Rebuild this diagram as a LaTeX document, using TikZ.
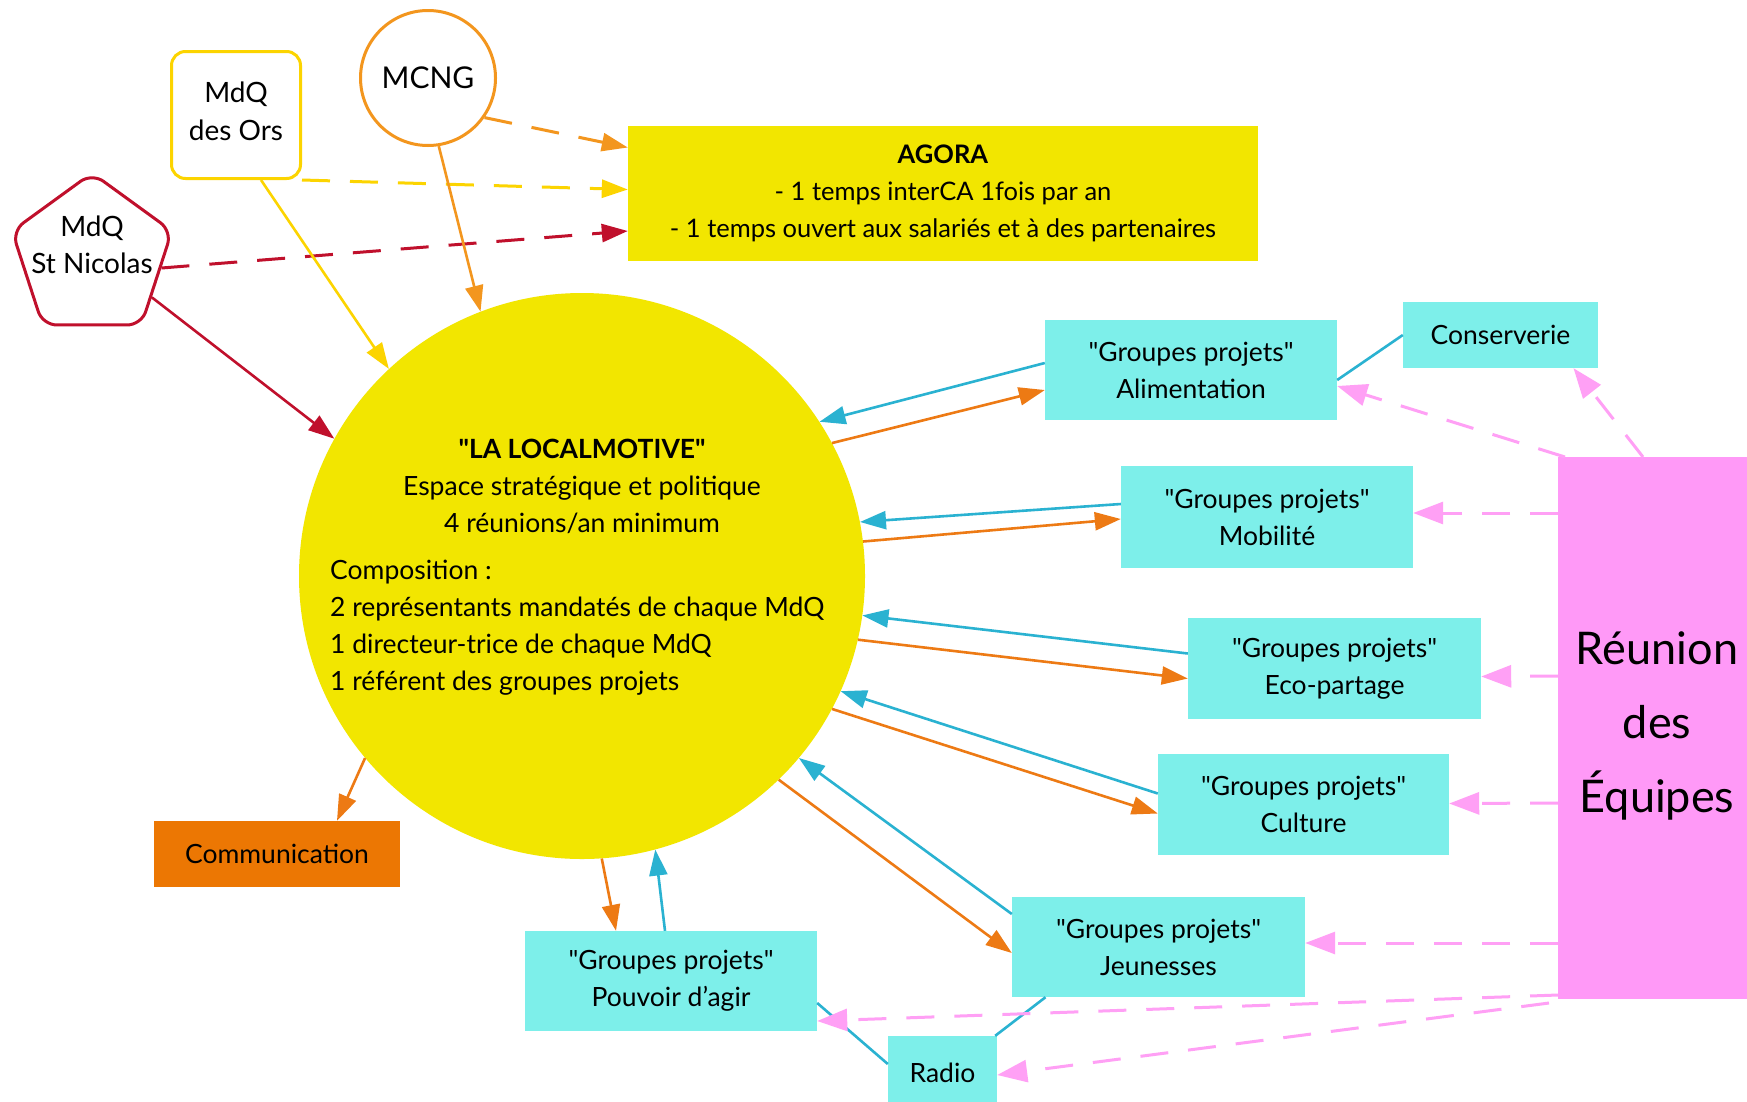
\documentclass[tikz,border=0pt]{standalone}
\usepackage{fontspec}
\newfontfamily\lato{Lato}
\newcommand\fsz[2]{\lato\fontsize{#1}{#2}\selectfont}
\usetikzlibrary{arrows.meta,shapes.geometric,calc}
\definecolor{locyellow}{RGB}{242,230,0}
\definecolor{cyanbox}{RGB}{125,239,234}
\definecolor{blueline}{RGB}{42,178,209}
\definecolor{orline}{RGB}{237,122,20}
\definecolor{mcngor}{RGB}{243,150,30}
\definecolor{orsyellow}{RGB}{252,212,0}
\definecolor{crimson}{RGB}{192,16,44}
\definecolor{pinkbox}{RGB}{255,153,247}
\definecolor{pinkline}{RGB}{255,160,245}
\definecolor{commor}{RGB}{236,119,3}
\begin{document}
\begin{tikzpicture}[x=1pt,y=-1pt,
  txt/.style={inner sep=0pt, font=\fsz{26.5}{37}},
  gbox/.style={fill=cyanbox, align=center, inner sep=0pt, font=\fsz{26.5}{37}},
  tipA/.style={-{Triangle[length=26pt,width=18pt]}},
  bluearr/.style={draw=blueline, line width=2.6pt, tipA},
  orarr/.style={draw=orline, line width=2.6pt, tipA},
  blueln/.style={draw=blueline, line width=2.6pt},
  pinkarr/.style={draw=pinkline, line width=3pt, dash pattern=on 28pt off 20pt, -{Triangle[length=30pt,width=22pt]}},
  topdash/.style={line width=3pt, dash pattern=on 28pt off 20pt, tipA}
]
\useasboundingbox[fill=white] (0,0) rectangle (1747,1101);

% main circle
\node[circle, fill=locyellow, minimum size=566pt, inner sep=0pt] (loc) at (582,576) {};
\node[txt, align=center] (loctitle) at (582,486) {\textbf{"LA LOCALMOTIVE"}\\Espace stratégique et politique\\4 réunions/an minimum};
\node[txt, align=left, anchor=west] (loccomp) at (330,628) {Composition :\\2 représentants mandatés de chaque MdQ\\1 directeur-trice de chaque MdQ\\1 référent des groupes projets};

% top sources
\node[circle, draw=mcngor, line width=3pt, fill=white, minimum size=135pt, inner sep=0pt, font=\fsz{30}{36}] (mcng) at (428,78) {MCNG};
\node[draw=orsyellow, line width=3pt, fill=white, rounded corners=14pt, minimum width=129pt, minimum height=127pt, inner sep=0pt] (ors) at (236,115) {};
\node[inner sep=0pt, align=center, font=\fsz{28}{38}] (orstext) at (236,111) {MdQ\\des Ors};
\node[regular polygon, regular polygon sides=5, draw=crimson, line width=3pt, fill=white, rounded corners=14pt, minimum size=168pt, inner sep=0pt] (nic) at (92,257) {};
\node[inner sep=0pt, align=center, font=\fsz{28}{37}] (nictext) at (92,245) {MdQ\\St Nicolas};

% agora
\node[fill=locyellow, minimum width=630pt, minimum height=135pt, inner sep=0pt, align=center, font=\fsz{25.5}{37}] (agora) at (943,193.5) {\textbf{AGORA}\\- 1 temps interCA 1fois par an\\- 1 temps ouvert aux salariés et à des partenaires};

% project groups
\node[gbox, minimum width=292pt, minimum height=100pt] (alim) at (1191,370) {"Groupes projets"\\Alimentation};
\node[gbox, minimum width=195pt, minimum height=66pt] (cons) at (1500.5,335) {Conserverie};
\node[gbox, minimum width=292pt, minimum height=102pt] (mob) at (1267,517) {"Groupes projets"\\Mobilité};
\node[gbox, minimum width=293pt, minimum height=101pt] (eco) at (1334.5,668.5) {"Groupes projets"\\Eco-partage};
\node[gbox, minimum width=291pt, minimum height=101pt] (cult) at (1303.5,804.5) {"Groupes projets"\\Culture};
\node[gbox, minimum width=293pt, minimum height=100pt] (jeun) at (1158.5,947) {"Groupes projets"\\Jeunesses};
\node[gbox, minimum width=292pt, minimum height=100pt] (pouv) at (671,981) {"Groupes projets"\\Pouvoir d’agir};
\node[gbox, minimum width=109pt, minimum height=74pt] (radio) at (942.5,1073) {Radio};
\node[fill=commor, minimum width=246pt, minimum height=66pt, inner sep=0pt, font=\fsz{26.5}{37}] (comm) at (277,854) {Communication};

% reunion des equipes
\node[fill=pinkbox, minimum width=189pt, minimum height=542pt, inner sep=0pt, anchor=north west] (reu) at (1558,457) {};
\node[inner sep=0pt, align=center, font=\fsz{45}{74}] (reutext) at (1657,726) {Réunion\\des\\Équipes};

% top dashed to agora
\draw[topdash, draw=mcngor] (mcng.325) -- ($(agora.west)+(0,-46)$);
\draw[topdash, draw=orsyellow] (ors.south east) -- ($(agora.west)+(0,-4)$);
\draw[topdash, draw=crimson] (nic.351) -- ($(agora.west)+(0,37.5)$);

% sources to circle
\draw[draw=mcngor, line width=2.6pt, tipA] (mcng.279.7) -- (loc.111.7);
\draw[draw=orsyellow, line width=2.6pt, tipA] ($(ors.south)+(25,0)$) -- (loc.133.6);
\draw[draw=crimson, line width=2.6pt, tipA] (nic.326) -- (loc.151.4);

% communication
\draw[orarr] (loc.220.6) -- ($(comm.north)+(60,0)$);

% pouvoir
\draw[orarr] (loc.274.2) -- ($(pouv.north)+(-55,0)$);
\draw[bluearr] ($(pouv.north)+(-6,0)$) -- (loc.285);

% jeunesses
\draw[orarr] (loc.314.9) -- ($(jeun.west)+(0,6)$);
\draw[bluearr] ($(jeun.west)+(0,-33)$) -- (loc.320.6);

% culture
\draw[orarr] (loc.332.2) -- ($(cult.west)+(0,9)$);
\draw[bluearr] ($(cult.west)+(0,-11)$) -- (loc.336.9);

% eco
\draw[orarr] (loc.347.6) -- ($(eco.west)+(0,10)$);
\draw[bluearr] ($(eco.west)+(0,-15)$) -- (loc.352.2);

% mobilite
\draw[orarr] (loc.7.4) -- ($(mob.west)+(0,2)$);
\draw[bluearr] ($(mob.west)+(0,-13)$) -- (loc.11.2);

% alimentation
\draw[orarr] (loc.28.9) -- ($(alim.west)+(0,20)$);
\draw[bluearr] ($(alim.west)+(0,-7)$) -- (loc.33.9);

% plain links
\draw[blueln] ($(alim.east)+(0,10)$) -- (cons.west);
\draw[blueln] ($(pouv.east)+(0,22)$) -- ($(radio.west)+(0,-9)$);
\draw[blueln] ($(jeun.south)+(-113,0)$) -- ($(radio.north east)+(-2,0)$);

% pink dashed from reunion
\draw[pinkarr] ($(reu.north west)+(7,0)$) -- ($(alim.east)+(0,16)$);
\draw[pinkarr] ($(reu.north west)+(85,0)$) -- ($(cons.south)+(73,0)$);
\draw[pinkarr] ($(reu.north west)+(0,56)$) -- ($(mob.east)+(0,-4)$);
\draw[pinkarr] ($(reu.north west)+(0,219)$) -- ($(eco.east)+(0,8)$);
\draw[pinkarr] ($(reu.north west)+(0,346)$) -- ($(cult.east)+(0,-1)$);
\draw[pinkarr] ($(reu.north west)+(0,486)$) -- ($(jeun.east)+(0,-4)$);
\draw[pinkarr] ($(reu.north west)+(0,538)$) -- ($(pouv.east)+(0,40)$);
\draw[pinkarr] ($(reu.north west)+(-9,546)$) -- ($(radio.east)+(0,2)$);
\end{tikzpicture}
\end{document}
